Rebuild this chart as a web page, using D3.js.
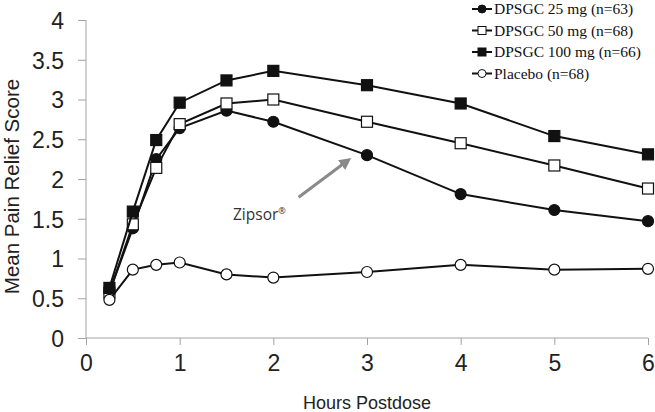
<!DOCTYPE html>
<html><head><meta charset="utf-8">
<script src="https://cdn.jsdelivr.net/npm/d3@7"></script>
<style>body{margin:0;background:#fff}svg{display:block}</style>
</head><body>
<svg id="chart" width="655" height="412"></svg>
<script>
const hours = [0.25, 0.5, 0.75, 1, 1.5, 2, 3, 4, 5, 6];
const dpsgc25 = [0.58, 1.38, 2.25, 2.64, 2.86, 2.72, 2.30, 1.81, 1.61, 1.47];
const dpsgc50 = [0.57, 1.43, 2.14, 2.69, 2.95, 3.00, 2.72, 2.45, 2.17, 1.88];
const dpsgc100 = [0.63, 1.59, 2.49, 2.96, 3.24, 3.36, 3.18, 2.95, 2.54, 2.31];
const placebo = [0.48, 0.86, 0.92, 0.95, 0.80, 0.76, 0.83, 0.92, 0.86, 0.87];
const seriesNames = ["DPSGC 25 mg (n=63)", "DPSGC 50 mg (n=68)", "DPSGC 100 mg (n=66)", "Placebo (n=68)"];
const seriesMarkers = ["circle-filled", "square-open", "square-filled", "circle-open"];
const xTicks = [0, 1, 2, 3, 4, 5, 6];
const yTicks = [0, 0.5, 1, 1.5, 2, 2.5, 3, 3.5, 4];
const xTitle = "Hours Postdose";
const yTitle = "Mean Pain Relief Score";
const annotation = {label: "Zipsor", sup: "®", from: [2.27, 1.77], to: [2.78, 2.22]};

const seriesValues = [dpsgc25, dpsgc50, dpsgc100, placebo];
const svg = d3.select("#chart");
const x = d3.scaleLinear().domain([0, 6]).range([86, 648]);
const y = d3.scaleLinear().domain([0, 4]).range([338, 20]);
const axisColor = "#a3a3a3";

// axes
const gx = svg.append("g").attr("transform", `translate(0,${y(0)})`)
  .call(d3.axisBottom(x).tickValues(xTicks).tickSize(7).tickPadding(8).tickFormat(d3.format("d")));
const gy = svg.append("g").attr("transform", `translate(${x(0)},0)`)
  .call(d3.axisLeft(y).tickValues(yTicks).tickSize(8).tickPadding(14).tickFormat(d => String(d)));
[gx, gy].forEach(g => {
  g.select(".domain").attr("stroke", axisColor).attr("stroke-width", 1);
  g.selectAll(".tick line").attr("stroke", axisColor);
  g.selectAll("text").attr("fill", "#222").style("font-family", "'Liberation Sans', Arial, sans-serif").style("font-size", "23px");
});
gx.select(".domain").attr("d", `M${x(0)},0H${x(6)}`);
gy.select(".domain").attr("d", `M0,${y(4)}V${y(0)}`);
gx.selectAll(".tick text").attr("dy", "0.78em");
gy.selectAll(".tick text").attr("dy", "0.36em");

svg.append("text").attr("x", (x(0) + x(6)) / 2).attr("y", 409).attr("text-anchor", "middle")
  .style("font-family", "'Liberation Sans', Arial, sans-serif").style("font-size", "18px").attr("fill", "#222").text(xTitle);
svg.append("text").attr("transform", `translate(19,${(73 + 300) / 2}) rotate(-90)`).attr("text-anchor", "middle")
  .style("font-family", "'Liberation Sans', Arial, sans-serif").style("font-size", "20.5px").attr("fill", "#222").text(yTitle);

function drawMarker(g, type, cx, cy) {
  if (type.startsWith("circle")) {
    g.append("circle").attr("cx", cx).attr("cy", cy).attr("r", 5.5)
      .attr("fill", type.endsWith("filled") ? "#111" : "#fff").attr("stroke", "#111").attr("stroke-width", 1.2);
  } else {
    g.append("rect").attr("x", cx - 5.5).attr("y", cy - 5.5).attr("width", 11).attr("height", 11)
      .attr("fill", type.endsWith("filled") ? "#111" : "#fff").attr("stroke", "#111").attr("stroke-width", 1.2);
  }
}

const line = d3.line().x(d => x(d[0])).y(d => y(d[1]));
seriesValues.forEach((vals, i) => {
  const pts = hours.map((h, j) => [h, vals[j]]);
  const g = svg.append("g");
  g.append("path").attr("d", line(pts)).attr("fill", "none").attr("stroke", "#111").attr("stroke-width", 2);
  pts.forEach(p => drawMarker(g, seriesMarkers[i], x(p[0]), y(p[1])));
});

// annotation arrow
const defs = svg.append("defs");
defs.append("marker").attr("id", "arrow").attr("viewBox", "0 0 10 10").attr("refX", 5).attr("refY", 5)
  .attr("markerWidth", 4).attr("markerHeight", 4).attr("orient", "auto")
  .append("path").attr("d", "M0,0 L10,5 L0,10 Z").attr("fill", "#8a8a8a");
svg.append("line").attr("x1", x(annotation.from[0])).attr("y1", y(annotation.from[1]))
  .attr("x2", x(annotation.to[0])).attr("y2", y(annotation.to[1]))
  .attr("stroke", "#8a8a8a").attr("stroke-width", 3).attr("marker-end", "url(#arrow)");
const at = svg.append("text").attr("x", 233).attr("y", 220)
  .style("font-family", "'Open Sans', sans-serif").style("font-size", "15.5px").attr("fill", "#333");
at.append("tspan").text(annotation.label);
at.append("tspan").attr("dy", -6).style("font-size", "9px").text(annotation.sup);

// legend
const lg = svg.append("g");
seriesNames.forEach((name, i) => {
  const cy = 9 + i * 21.5;
  lg.append("line").attr("x1", 472).attr("x2", 492).attr("y1", cy).attr("y2", cy).attr("stroke", "#111").attr("stroke-width", 2);
  const mg = lg.append("g");
  if (seriesMarkers[i].startsWith("circle")) {
    mg.append("circle").attr("cx", 482).attr("cy", cy).attr("r", 4)
      .attr("fill", seriesMarkers[i].endsWith("filled") ? "#111" : "#fff").attr("stroke", "#111").attr("stroke-width", 1);
  } else {
    mg.append("rect").attr("x", 478).attr("y", cy - 4).attr("width", 8).attr("height", 8)
      .attr("fill", seriesMarkers[i].endsWith("filled") ? "#111" : "#fff").attr("stroke", "#111").attr("stroke-width", 1);
  }
  lg.append("text").attr("x", 494).attr("y", cy).attr("dy", "0.35em")
    .style("font-family", "'Liberation Serif', 'Times New Roman', serif").style("font-size", "15.5px").attr("fill", "#111").text(name);
});
</script>
</body></html>
